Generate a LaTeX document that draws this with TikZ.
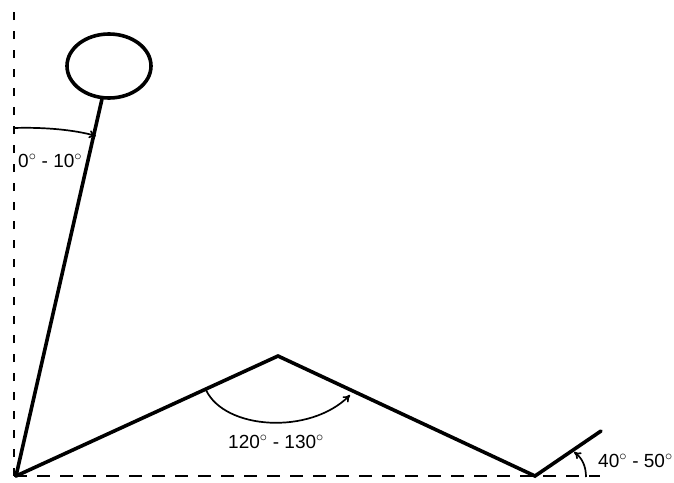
\documentclass[tikz,border=0pt]{standalone}
\usepackage{fontspec}
\setmainfont{Liberation Sans}
\usetikzlibrary{arrows.meta,shapes.geometric}
\begin{document}
\begin{tikzpicture}[x=1pt,y=-1pt,
  limb/.style={line width=3.6pt,line cap=round,line join=miter},
  guide/.style={line width=2.6pt,dash pattern=on 8pt off 11pt},
  anglearrow/.style={line width=1.7pt,-{To[length=7pt,width=8pt]}},
  lbl/.style={font=\fontsize{19}{22}\selectfont,inner sep=0pt,anchor=base west}]
\useasboundingbox (0,0) rectangle (674,482);
% joints
\coordinate (hip) at (16,476);
\coordinate (knee) at (278,356);
\coordinate (ankle) at (535,476);
\coordinate (toe) at (601,431);
\coordinate (vtop) at (14,8);
\coordinate (vbot) at (14,476);
\coordinate (hend) at (600,476);
% guides
\draw[guide] (vbot) -- (vtop);
\draw[guide,dash pattern=on 13pt off 10pt] (vbot) -- (hend);
% head
\node[draw,line width=3.6pt,ellipse,minimum width=84pt,minimum height=64pt,inner sep=0pt] (head) at (109,66) {};
% body
\draw[limb] (hip) -- (head.258);
\draw[limb] (hip) -- (knee) -- (ankle) -- (toe);
% angles
\coordinate (a1s) at (14,128);
\coordinate (a1e) at (96,136);
\draw[anglearrow] (a1s) .. controls (45,127) and (75,130) .. (a1e);
\node[lbl] (l1) at (18,167) {0$^{\circ}$ - 10$^{\circ}$};
\coordinate (a2s) at (206,390);
\coordinate (a2e) at (350,395);
\draw[anglearrow] (a2s) .. controls (225,430) and (310,435) .. (a2e);
\node[lbl] (l2) at (228,448) {120$^{\circ}$ - 130$^{\circ}$};
\coordinate (a3s) at (586,477);
\coordinate (a3e) at (574,452);
\draw[anglearrow] (a3s) .. controls (586,466) and (582,458) .. (a3e);
\node[lbl] (l3) at (598,467) {40$^{\circ}$ - 50$^{\circ}$};
\end{tikzpicture}
\end{document}
